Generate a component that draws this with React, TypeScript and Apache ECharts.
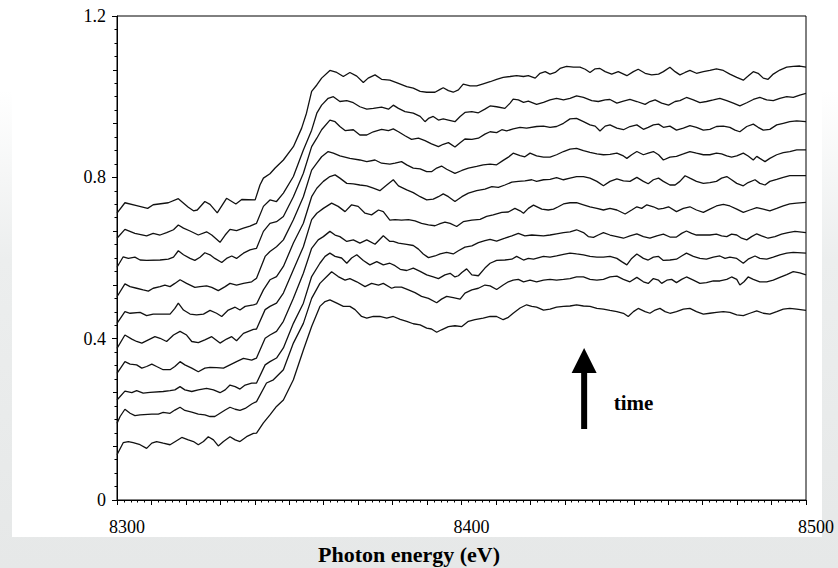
import React, { useEffect, useRef } from "react";
import * as echarts from "echarts";

// Photon energy (eV) vs normalised absorption, 10 successive XANES scans (bottom = first, top = last)
const scan1 = [[8300,0.112],[8301.8,0.142],[8303.3,0.145],[8304.7,0.142],[8306.7,0.137],[8308.6,0.128],[8310.1,0.141],[8311.5,0.145],[8313.4,0.141],[8315.4,0.137],[8317.3,0.147],[8318.8,0.155],[8320.7,0.149],[8322.2,0.145],[8323.6,0.137],[8325.1,0.145],[8326.5,0.157],[8328,0.149],[8329.4,0.134],[8330.9,0.145],[8332.8,0.157],[8334.3,0.149],[8335.7,0.145],[8337.6,0.157],[8339.6,0.165],[8340.5,0.166],[8342.5,0.191],[8344.4,0.211],[8346.3,0.232],[8348.3,0.248],[8351.2,0.298],[8354.1,0.372],[8356.5,0.430],[8358.9,0.480],[8360.4,0.492],[8361.8,0.496],[8363.8,0.488],[8365.7,0.480],[8367.6,0.480],[8369.1,0.472],[8371,0.455],[8372.5,0.451],[8374.4,0.455],[8376.3,0.455],[8378.3,0.451],[8380.2,0.455],[8382.2,0.448],[8384.1,0.443],[8386,0.437],[8388,0.434],[8389.9,0.426],[8391.3,0.424],[8392.8,0.416],[8394.2,0.422],[8396.2,0.430],[8398.1,0.432],[8400.1,0.430],[8402,0.443],[8403.9,0.447],[8406.3,0.451],[8408.3,0.455],[8410.2,0.455],[8412.1,0.447],[8413.6,0.453],[8415,0.463],[8417,0.476],[8418.9,0.484],[8420.4,0.480],[8421.8,0.478],[8423.8,0.471],[8425.7,0.473],[8427.6,0.478],[8429.6,0.480],[8431.5,0.481],[8433.4,0.484],[8435.4,0.481],[8437.3,0.480],[8439.3,0.475],[8441.2,0.473],[8443.1,0.470],[8445.1,0.467],[8447,0.463],[8448.4,0.455],[8449.9,0.467],[8451.3,0.475],[8453.3,0.467],[8454.7,0.463],[8456.2,0.471],[8457.6,0.475],[8459.1,0.467],[8460.5,0.463],[8462.4,0.467],[8464.4,0.473],[8466.3,0.475],[8468.2,0.467],[8470.2,0.461],[8472.1,0.463],[8474,0.465],[8476,0.467],[8477.9,0.465],[8479.9,0.459],[8481.8,0.457],[8483.7,0.463],[8485.7,0.469],[8487.6,0.463],[8489.5,0.461],[8491.5,0.467],[8493.4,0.473],[8495.3,0.475],[8497.3,0.473],[8500,0.470]];

const scan2 = [[8300,0.190],[8300.9,0.207],[8302.3,0.225],[8303.8,0.215],[8305.2,0.209],[8306.7,0.211],[8310.1,0.213],[8312,0.213],[8313.4,0.217],[8315.4,0.215],[8316.8,0.223],[8318.3,0.230],[8319.7,0.222],[8321.7,0.218],[8323.6,0.213],[8325.5,0.211],[8327,0.207],[8328.4,0.207],[8329.9,0.215],[8331.4,0.223],[8332.8,0.230],[8334.3,0.225],[8335.7,0.222],[8337.2,0.227],[8339.1,0.238],[8340.5,0.244],[8343.4,0.290],[8345.4,0.298],[8348.3,0.323],[8351.2,0.389],[8354.1,0.438],[8356.5,0.500],[8358.9,0.537],[8360.9,0.554],[8362.3,0.566],[8364.2,0.554],[8366.2,0.545],[8367.6,0.549],[8369.6,0.541],[8372,0.529],[8373.9,0.537],[8375.9,0.533],[8377.3,0.537],[8379.7,0.525],[8380.7,0.528],[8382.6,0.528],[8384.6,0.521],[8386.5,0.514],[8388.4,0.505],[8390.4,0.500],[8392.8,0.489],[8394.2,0.498],[8395.7,0.505],[8397.6,0.502],[8399.6,0.498],[8401,0.513],[8403,0.521],[8404.9,0.525],[8406.8,0.533],[8408.3,0.531],[8410.2,0.522],[8412.1,0.533],[8413.6,0.541],[8415,0.545],[8416.5,0.547],[8418,0.541],[8419.9,0.545],[8421.8,0.541],[8423.8,0.545],[8425.7,0.547],[8427.6,0.545],[8429.6,0.547],[8431.5,0.549],[8433.4,0.553],[8435.4,0.553],[8437.3,0.547],[8439.3,0.545],[8441.2,0.547],[8443.1,0.553],[8445.1,0.555],[8447,0.547],[8448.9,0.541],[8450.9,0.552],[8452.8,0.541],[8454.2,0.537],[8455.7,0.549],[8457.2,0.545],[8458.1,0.537],[8459.6,0.545],[8461,0.547],[8462.4,0.539],[8463.9,0.547],[8465.3,0.553],[8467.3,0.545],[8469.2,0.537],[8471.1,0.539],[8473.1,0.543],[8475,0.543],[8477,0.547],[8478.4,0.553],[8479.9,0.547],[8480.8,0.533],[8482,0.541],[8483.2,0.553],[8484.7,0.547],[8486.6,0.541],[8488.6,0.541],[8490.5,0.545],[8492.4,0.552],[8494.4,0.559],[8496.3,0.566],[8498.2,0.563],[8500,0.558]];

const scan3 = [[8300,0.248],[8302.3,0.270],[8304.3,0.266],[8305.7,0.271],[8307.6,0.265],[8309.6,0.267],[8313.4,0.269],[8315.4,0.271],[8316.8,0.273],[8318.3,0.281],[8319.7,0.273],[8321.7,0.269],[8323.6,0.273],[8326,0.277],[8328,0.273],[8329.9,0.266],[8331.4,0.273],[8332.8,0.285],[8334.3,0.281],[8335.7,0.275],[8337.2,0.285],[8339.1,0.290],[8340.5,0.290],[8343,0.335],[8344.4,0.343],[8346.3,0.352],[8348.3,0.377],[8351.2,0.438],[8354.1,0.488],[8356.5,0.554],[8358.9,0.587],[8360.4,0.604],[8361.8,0.612],[8363.3,0.604],[8365.2,0.600],[8366.7,0.587],[8368.1,0.600],[8369.6,0.608],[8371.5,0.594],[8373.4,0.583],[8375.4,0.591],[8377.3,0.583],[8379.2,0.587],[8380.7,0.581],[8382.2,0.572],[8384.1,0.569],[8386,0.575],[8388,0.567],[8389.9,0.558],[8391.8,0.553],[8393.3,0.549],[8395.2,0.558],[8396.7,0.562],[8398.1,0.553],[8399.1,0.556],[8400.1,0.564],[8401.5,0.573],[8403,0.558],[8404.9,0.556],[8406.8,0.575],[8408.3,0.587],[8410.2,0.594],[8412.6,0.595],[8414.6,0.597],[8416,0.604],[8418,0.595],[8419.4,0.599],[8420.9,0.597],[8423.8,0.604],[8425.7,0.602],[8427.6,0.605],[8429.6,0.609],[8431.5,0.612],[8433.4,0.610],[8435.4,0.608],[8437.3,0.604],[8439.3,0.602],[8441.2,0.602],[8443.1,0.604],[8445.1,0.599],[8446.5,0.591],[8448,0.583],[8449.4,0.599],[8450.9,0.610],[8452.8,0.599],[8454.2,0.595],[8455.7,0.602],[8457.2,0.604],[8458.6,0.594],[8460.5,0.595],[8462.4,0.597],[8463.9,0.605],[8465.3,0.612],[8467.3,0.604],[8469.2,0.599],[8471.1,0.597],[8473.1,0.602],[8475,0.605],[8476.5,0.599],[8477.9,0.602],[8479.9,0.599],[8481.8,0.587],[8483.2,0.597],[8485.2,0.605],[8486.6,0.599],[8488.6,0.597],[8490.5,0.602],[8492.4,0.608],[8494.4,0.612],[8496.3,0.614],[8500,0.612]];

const scan4 = [[8300,0.314],[8302.3,0.343],[8303.8,0.337],[8305.7,0.335],[8307.2,0.327],[8308.6,0.331],[8310.1,0.337],[8311.5,0.331],[8313.4,0.323],[8315.4,0.323],[8316.8,0.331],[8318.3,0.343],[8319.7,0.335],[8321.7,0.327],[8323.6,0.318],[8325.5,0.327],[8327,0.329],[8328.9,0.328],[8330.9,0.327],[8332.8,0.335],[8334.7,0.343],[8336.7,0.351],[8339.1,0.347],[8340.5,0.352],[8343,0.401],[8344.4,0.409],[8346.3,0.418],[8348.3,0.443],[8351.2,0.500],[8354.1,0.562],[8356.5,0.624],[8358.4,0.645],[8359.9,0.653],[8361.8,0.666],[8363.3,0.657],[8364.7,0.653],[8366.7,0.641],[8368.6,0.645],[8370.5,0.637],[8372.5,0.645],[8374.9,0.634],[8377.3,0.655],[8379.2,0.641],[8380.2,0.641],[8381.7,0.637],[8384.1,0.634],[8386,0.631],[8387.5,0.622],[8388.9,0.610],[8390.4,0.601],[8392.3,0.605],[8393.8,0.610],[8395.7,0.614],[8397.6,0.610],[8399.1,0.618],[8401,0.627],[8403,0.630],[8404.9,0.638],[8406.8,0.643],[8408.3,0.646],[8410.2,0.642],[8412.6,0.649],[8414.6,0.655],[8416.5,0.661],[8418.4,0.655],[8420.4,0.657],[8423.8,0.655],[8425.7,0.657],[8427.6,0.660],[8429.6,0.663],[8431.5,0.665],[8433.4,0.670],[8435.4,0.663],[8436.8,0.653],[8438.3,0.651],[8439.7,0.657],[8441.2,0.663],[8443.1,0.657],[8445.1,0.653],[8447,0.649],[8448.9,0.655],[8450.9,0.660],[8452.8,0.653],[8454.7,0.649],[8456.7,0.655],[8458.6,0.659],[8460.5,0.652],[8462.4,0.652],[8463.9,0.661],[8465.3,0.667],[8466.8,0.661],[8468.2,0.657],[8470.2,0.657],[8472.1,0.657],[8474,0.659],[8475.5,0.655],[8477,0.653],[8478.4,0.659],[8479.9,0.657],[8481.3,0.649],[8482.8,0.645],[8484.2,0.653],[8485.7,0.660],[8487.1,0.655],[8489,0.649],[8491,0.653],[8492.9,0.659],[8494.8,0.663],[8496.8,0.666],[8500,0.663]];

const scan5 = [[8300,0.376],[8302.3,0.409],[8304.3,0.399],[8305.7,0.393],[8307.2,0.389],[8309.1,0.397],[8311,0.405],[8312.5,0.401],[8314.4,0.393],[8316.4,0.409],[8318.3,0.418],[8320.2,0.409],[8321.7,0.393],[8323.6,0.390],[8325.5,0.397],[8327.5,0.405],[8329.9,0.389],[8331.8,0.399],[8333.3,0.405],[8334.7,0.395],[8336.7,0.413],[8339.6,0.423],[8340.5,0.424],[8343,0.472],[8344.4,0.480],[8346.3,0.488],[8348.3,0.513],[8351.2,0.571],[8354.1,0.628],[8356.5,0.695],[8358,0.711],[8359.9,0.723],[8362.3,0.736],[8364.2,0.728],[8366.2,0.715],[8368.1,0.732],[8370,0.728],[8372,0.711],[8373.9,0.707],[8375.9,0.719],[8377.3,0.715],[8379.2,0.694],[8380.7,0.695],[8382.6,0.694],[8384.6,0.695],[8386.5,0.692],[8388.4,0.686],[8390.4,0.682],[8392.3,0.680],[8393.8,0.685],[8395.2,0.689],[8396.7,0.686],[8398.6,0.678],[8400.5,0.690],[8403,0.694],[8405.4,0.696],[8407.3,0.703],[8409.2,0.707],[8411.7,0.713],[8413.6,0.714],[8415.5,0.723],[8417,0.717],[8418,0.711],[8419.4,0.723],[8420.9,0.731],[8423.3,0.721],[8425.2,0.719],[8426.7,0.721],[8428.1,0.727],[8429.6,0.734],[8431.5,0.737],[8433.4,0.737],[8435.4,0.732],[8437.3,0.727],[8439.3,0.723],[8441.2,0.719],[8443.1,0.723],[8445.1,0.719],[8447.5,0.709],[8449.4,0.719],[8450.9,0.727],[8452.3,0.723],[8453.8,0.732],[8455.7,0.727],[8457.2,0.721],[8458.6,0.723],[8460.1,0.727],[8462.4,0.715],[8464.4,0.723],[8466.3,0.727],[8468.2,0.719],[8470.2,0.713],[8472.1,0.721],[8474,0.729],[8476,0.733],[8477.9,0.729],[8479.9,0.721],[8481.8,0.713],[8483.7,0.719],[8485.7,0.725],[8487.6,0.721],[8489.5,0.717],[8491.5,0.723],[8493.4,0.729],[8495.3,0.734],[8497.3,0.736],[8500,0.738]];

const scan6 = [[8300,0.438],[8302.3,0.467],[8303.8,0.463],[8306.7,0.465],[8308.6,0.457],[8310.5,0.461],[8312.5,0.461],[8315.4,0.461],[8316.8,0.475],[8317.8,0.488],[8319.3,0.471],[8321.2,0.461],[8323.1,0.459],[8325.1,0.461],[8327,0.470],[8328.9,0.463],[8330.4,0.455],[8332.3,0.471],[8334.3,0.478],[8335.7,0.471],[8337.2,0.480],[8339.6,0.484],[8340.5,0.486],[8342.5,0.521],[8344.4,0.546],[8346.3,0.554],[8348.3,0.579],[8351.2,0.637],[8354.1,0.686],[8356.5,0.752],[8358,0.773],[8359.9,0.790],[8361.8,0.802],[8363.3,0.806],[8364.7,0.798],[8366.7,0.785],[8368.6,0.784],[8370.5,0.781],[8372.5,0.779],[8374.4,0.773],[8376.3,0.767],[8378.3,0.781],[8380.2,0.794],[8381.7,0.779],[8384.1,0.769],[8386,0.762],[8388,0.752],[8389.9,0.744],[8391.8,0.746],[8393.3,0.752],[8394.7,0.759],[8396.2,0.752],[8398.1,0.740],[8400.1,0.752],[8402,0.761],[8404.4,0.767],[8406.8,0.771],[8408.8,0.777],[8410.7,0.775],[8412.6,0.781],[8414.6,0.788],[8416.5,0.790],[8418.4,0.791],[8420.4,0.794],[8421.8,0.790],[8423.8,0.794],[8425.7,0.795],[8427.6,0.799],[8429.6,0.794],[8431.5,0.798],[8433.4,0.802],[8435.4,0.802],[8437.3,0.798],[8439.3,0.790],[8441.2,0.779],[8443.1,0.790],[8445.1,0.796],[8447,0.791],[8448.9,0.790],[8450.9,0.800],[8452.8,0.790],[8454.2,0.784],[8455.7,0.794],[8457.2,0.798],[8458.6,0.790],[8460.5,0.781],[8462,0.781],[8463.4,0.790],[8464.9,0.804],[8466.3,0.798],[8468.2,0.790],[8470.2,0.785],[8472.1,0.787],[8474,0.790],[8475.5,0.798],[8477,0.802],[8478.4,0.794],[8479.9,0.785],[8481.8,0.779],[8483.2,0.787],[8485.2,0.794],[8486.6,0.785],[8488.1,0.781],[8489.5,0.790],[8491.5,0.795],[8493.4,0.800],[8495.3,0.804],[8497.3,0.804],[8500,0.804]];

const scan7 = [[8300,0.504],[8302.3,0.536],[8303.8,0.529],[8305.7,0.525],[8307.6,0.521],[8309.1,0.518],[8310.5,0.525],[8312.5,0.529],[8313.9,0.533],[8315.4,0.529],[8316.8,0.537],[8318.3,0.546],[8320.2,0.537],[8322.6,0.527],[8324.1,0.529],[8326,0.531],[8327.5,0.527],[8329.4,0.519],[8331.4,0.529],[8332.8,0.537],[8334.7,0.533],[8336.7,0.537],[8339.1,0.541],[8340.5,0.550],[8343,0.604],[8344.4,0.616],[8346.3,0.628],[8348.3,0.645],[8351.2,0.695],[8354.1,0.752],[8356.5,0.818],[8358,0.835],[8359.4,0.851],[8361.3,0.864],[8362.8,0.860],[8364.7,0.853],[8367.6,0.847],[8370.5,0.843],[8372.5,0.839],[8374.9,0.843],[8376.8,0.835],[8379.2,0.833],[8380.7,0.835],[8382.6,0.839],[8384.1,0.831],[8386,0.823],[8388,0.821],[8389.9,0.814],[8391.3,0.814],[8392.8,0.823],[8394.2,0.828],[8395.7,0.820],[8398.1,0.810],[8400.1,0.817],[8402,0.823],[8404.4,0.827],[8406.3,0.831],[8408.3,0.833],[8410.2,0.831],[8412.1,0.842],[8413.6,0.850],[8415,0.860],[8417,0.854],[8418.4,0.851],[8419.9,0.860],[8421.8,0.853],[8423.8,0.850],[8425.7,0.850],[8427.6,0.856],[8429.6,0.864],[8431.5,0.870],[8433.4,0.872],[8435.4,0.866],[8437.3,0.862],[8439.3,0.858],[8441.2,0.856],[8443.1,0.857],[8445.1,0.860],[8447,0.853],[8448,0.847],[8449.4,0.856],[8450.9,0.864],[8452.8,0.856],[8454.2,0.860],[8455.7,0.864],[8457.2,0.856],[8458.6,0.843],[8460.5,0.850],[8462.4,0.852],[8464.4,0.858],[8466.3,0.864],[8468.2,0.860],[8470.2,0.856],[8472.1,0.856],[8474,0.860],[8475.5,0.858],[8477,0.853],[8478.4,0.850],[8479.9,0.853],[8481.8,0.860],[8483.2,0.853],[8484.7,0.843],[8485.7,0.852],[8486.6,0.847],[8488.1,0.839],[8489.5,0.847],[8491.5,0.856],[8493.4,0.861],[8495.3,0.864],[8497.3,0.868],[8500,0.868]];

const scan8 = [[8300,0.577],[8301.8,0.603],[8303.3,0.599],[8305.2,0.602],[8306.7,0.595],[8308.6,0.594],[8312.5,0.595],[8314.9,0.597],[8316.4,0.602],[8317.8,0.618],[8319.3,0.608],[8321.2,0.599],[8322.6,0.594],[8324.1,0.602],[8325.5,0.613],[8327,0.608],[8328.4,0.599],[8330.4,0.589],[8331.8,0.599],[8333.3,0.605],[8334.7,0.599],[8336.7,0.612],[8338.6,0.620],[8340.5,0.624],[8342.5,0.666],[8344.4,0.686],[8346.3,0.690],[8348.3,0.703],[8351.2,0.752],[8354.1,0.810],[8356.5,0.876],[8358,0.897],[8359.4,0.918],[8361.8,0.942],[8363.3,0.938],[8364.7,0.926],[8366.2,0.916],[8368.6,0.918],[8370.5,0.905],[8372.5,0.905],[8374.4,0.913],[8376.8,0.919],[8378.8,0.916],[8380.2,0.920],[8381.7,0.913],[8383.6,0.903],[8385.5,0.894],[8387.5,0.897],[8389.4,0.891],[8391.3,0.883],[8393.3,0.876],[8394.7,0.882],[8396.2,0.886],[8398.1,0.875],[8399.6,0.886],[8401,0.895],[8403,0.894],[8404.9,0.897],[8406.8,0.907],[8408.3,0.913],[8410.2,0.911],[8411.7,0.918],[8413.1,0.915],[8415,0.920],[8417,0.924],[8418.9,0.922],[8421.8,0.926],[8423.8,0.927],[8425.7,0.924],[8427.6,0.926],[8429.6,0.934],[8431.5,0.945],[8433.4,0.946],[8435.4,0.938],[8437.3,0.930],[8438.8,0.927],[8440.2,0.915],[8441.7,0.927],[8443.1,0.930],[8445.1,0.922],[8447,0.918],[8448.9,0.926],[8450.9,0.930],[8452.8,0.919],[8454.2,0.924],[8455.7,0.930],[8457.2,0.932],[8458.6,0.924],[8460.5,0.927],[8462.4,0.917],[8464.4,0.922],[8466.3,0.928],[8468.2,0.924],[8470.2,0.917],[8472.1,0.919],[8474,0.926],[8476,0.927],[8477.9,0.924],[8479.4,0.917],[8480.8,0.913],[8482.8,0.926],[8484.7,0.932],[8486.1,0.924],[8487.6,0.917],[8489.5,0.919],[8491.5,0.930],[8493.4,0.934],[8495.3,0.938],[8497.3,0.940],[8500,0.938]];

const scan9 = [[8300,0.649],[8302.3,0.671],[8305.2,0.661],[8308.6,0.655],[8310.5,0.661],[8312.5,0.657],[8314.4,0.663],[8316.4,0.670],[8317.8,0.682],[8319.3,0.674],[8321.2,0.667],[8323.6,0.657],[8326,0.665],[8327.5,0.657],[8329.9,0.639],[8331.4,0.657],[8332.8,0.671],[8334.7,0.668],[8336.7,0.674],[8338.6,0.679],[8340.5,0.686],[8342.5,0.728],[8344.4,0.744],[8346.3,0.740],[8348.3,0.761],[8351.2,0.802],[8354.1,0.868],[8356.5,0.917],[8358,0.959],[8359.4,0.979],[8361.3,0.996],[8362.8,1.000],[8364.7,0.988],[8366.7,0.990],[8368.6,0.985],[8370.5,0.975],[8372.5,0.969],[8374.4,0.971],[8376.8,0.974],[8378.8,0.969],[8380.2,0.979],[8381.7,0.971],[8383.6,0.963],[8386,0.959],[8388,0.951],[8389.4,0.938],[8390.4,0.946],[8391.8,0.951],[8393.3,0.942],[8394.7,0.945],[8396.2,0.942],[8398.1,0.938],[8399.6,0.951],[8401,0.961],[8403,0.963],[8404.9,0.960],[8406.8,0.969],[8408.3,0.977],[8410.2,0.975],[8412.6,0.971],[8414.1,0.984],[8415,0.994],[8416.5,0.992],[8418,0.986],[8419.4,0.989],[8421.8,0.981],[8423.8,0.986],[8425.7,0.992],[8427.6,0.996],[8429.6,0.992],[8431.5,0.996],[8433.4,1.002],[8435.4,0.998],[8437.8,0.990],[8439.7,0.988],[8441.7,0.992],[8443.1,0.993],[8445.1,0.984],[8447,0.989],[8448.9,0.993],[8450.9,0.988],[8453.3,0.981],[8454.7,0.988],[8456.2,0.992],[8458.1,0.984],[8460.1,0.979],[8462,0.988],[8463.4,0.990],[8465.3,0.998],[8467.3,0.992],[8469.2,0.985],[8471.1,0.988],[8473.1,0.992],[8475,0.996],[8477,0.990],[8478.9,0.984],[8480.8,0.977],[8482.8,0.985],[8484.7,0.993],[8486.6,0.998],[8488.6,0.992],[8490.5,0.990],[8492.4,0.996],[8494.4,1.000],[8496.3,0.998],[8498.2,1.004],[8500,1.008]];

const scan10 = [[8300,0.711],[8302.3,0.737],[8305.7,0.730],[8308.9,0.723],[8310.5,0.732],[8314.9,0.737],[8317.8,0.747],[8320.7,0.726],[8322.2,0.717],[8323.3,0.719],[8325.5,0.740],[8327,0.733],[8329.1,0.712],[8331.8,0.748],[8334.5,0.734],[8336.2,0.745],[8340.1,0.744],[8341.5,0.781],[8342.5,0.798],[8344.4,0.809],[8345.9,0.823],[8348.3,0.843],[8351.2,0.876],[8353.6,0.922],[8355,0.959],[8356.5,1.013],[8358,1.029],[8359.4,1.046],[8361.8,1.065],[8363.8,1.060],[8365.7,1.050],[8367.6,1.060],[8369.6,1.051],[8371.5,1.035],[8372.9,1.046],[8374.9,1.054],[8376.8,1.043],[8379.2,1.041],[8381.7,1.033],[8384.1,1.025],[8386,1.021],[8388,1.013],[8389.9,1.011],[8392.3,1.011],[8393.8,1.018],[8394.7,1.022],[8396.2,1.015],[8397.6,1.011],[8399.1,1.017],[8400.5,1.031],[8402.5,1.027],[8404.4,1.027],[8406.3,1.032],[8408.3,1.037],[8410.2,1.043],[8412.1,1.048],[8414.1,1.050],[8416,1.052],[8418,1.050],[8419.4,1.052],[8421.4,1.046],[8422.8,1.058],[8424.3,1.062],[8425.7,1.056],[8427.2,1.060],[8428.6,1.070],[8430.5,1.075],[8432.5,1.073],[8434.4,1.073],[8435.9,1.068],[8437.3,1.060],[8438.8,1.069],[8440.2,1.070],[8441.7,1.062],[8443.6,1.056],[8445.5,1.062],[8448,1.052],[8449.9,1.062],[8451.3,1.068],[8453.3,1.058],[8455.2,1.054],[8457.2,1.056],[8458.6,1.062],[8460.5,1.073],[8462,1.062],[8463.4,1.054],[8464.9,1.060],[8466.3,1.065],[8468.2,1.058],[8470.2,1.062],[8472.1,1.065],[8474,1.069],[8476,1.065],[8477.9,1.056],[8479.9,1.048],[8481.8,1.041],[8483.2,1.051],[8484.7,1.062],[8486.1,1.058],[8487.6,1.046],[8489,1.043],[8490.5,1.056],[8492.4,1.066],[8494.4,1.073],[8496.3,1.075],[8498.2,1.076],[8500,1.073]];

const scans = [scan1, scan2, scan3, scan4, scan5, scan6, scan7, scan8, scan9, scan10];

const xTickLabels = [8300, 8400, 8500];
const yTickLabels = [0, 0.4, 0.8, 1.2];
const xAxisTitle = "Photon energy (eV)";
const arrowLabel = "time";

// annotation anchor points in data units
const arrowX = 8435.6;
const arrowBottom = 0.176;
const arrowHeadBase = 0.315;
const arrowTip = 0.377;
const labelX = 8444.2;
const labelY = 0.241;

const FONT = '"Liberation Serif", "Times New Roman", serif';

export default function App() {
  const ref = useRef<HTMLDivElement>(null);

  useEffect(() => {
    if (!ref.current) return;
    const chart = echarts.init(ref.current, null, { renderer: "svg" });
    chart.setOption({
      animation: false,
      backgroundColor: "transparent",
      grid: {
        left: 117,
        right: 32,
        top: 16,
        bottom: 68,
        show: true,
        borderColor: "#000",
        borderWidth: 1,
        backgroundColor: "transparent",
      },
      xAxis: {
        type: "value",
        min: 8300,
        max: 8500,
        interval: 10,
        axisLine: { show: true, onZero: false, lineStyle: { color: "#000", width: 1 } },
        axisTick: { show: true, length: 5, lineStyle: { color: "#000", width: 1 } },
        minorTick: { show: true, splitNumber: 5, length: 2.5, lineStyle: { color: "#000", width: 1 } },
        splitLine: { show: false },
        minorSplitLine: { show: false },
        axisLabel: {
          interval: 0,
          margin: 18,
          color: "#000",
          fontFamily: FONT,
          fontSize: 18,
          padding: [0, 0, 0, 20],
          formatter: (v: number) => (xTickLabels.indexOf(Math.round(v)) >= 0 ? String(Math.round(v)) : ""),
        },
      },
      yAxis: [
        {
          type: "value",
          min: 0,
          max: 1.2,
          interval: 0.4,
          position: "left",
          axisLine: { show: true, onZero: false, lineStyle: { color: "#000", width: 1 } },
          axisTick: { show: true, length: 5, lineStyle: { color: "#000", width: 1 } },
          minorTick: { show: true, splitNumber: 12, length: 2.5, lineStyle: { color: "#000", width: 1 } },
          splitLine: { show: false },
          minorSplitLine: { show: false },
          axisLabel: {
            margin: 11,
            color: "#000",
            fontFamily: FONT,
            fontSize: 18,
            padding: [6, 0, 0, 0],
            formatter: (v: number) => {
              const t = yTickLabels.find((l) => Math.abs(l - v) < 1e-6);
              if (t === undefined) return "";
              return t === 0 ? "0" : t.toFixed(1);
            },
          },
        },
        {
          type: "value",
          min: 0,
          max: 1.2,
          interval: 0.4 / 3,
          position: "left",
          offset: 0,
          axisLine: { show: false },
          axisTick: { show: true, length: 4, lineStyle: { color: "#000", width: 1 } },
          axisLabel: { show: false },
          splitLine: { show: false },
        },
      ],
      series: scans.map((d, i) => ({
        name: "scan " + (i + 1),
        type: "line",
        data: d,
        yAxisIndex: 0,
        showSymbol: false,
        symbol: "none",
        smooth: false,
        silent: true,
        lineStyle: { color: "#111111", width: 1.3 },
      })),
    });

    const f = { xAxisIndex: 0, yAxisIndex: 0 };
    const tip = chart.convertToPixel(f, [arrowX, arrowTip]) as number[];
    const base = chart.convertToPixel(f, [arrowX, arrowHeadBase]) as number[];
    const bottom = chart.convertToPixel(f, [arrowX, arrowBottom]) as number[];
    const lab = chart.convertToPixel(f, [labelX, labelY]) as number[];

    chart.setOption({
      graphic: [
        {
          type: "rect",
          shape: { x: tip[0] - 3, y: base[1] - 1, width: 6, height: bottom[1] - base[1] + 1 },
          style: { fill: "#000" },
          silent: true,
          z: 10,
        },
        {
          type: "polygon",
          shape: {
            points: [
              [tip[0], tip[1]],
              [tip[0] - 12.5, base[1]],
              [tip[0] + 12.5, base[1]],
            ],
          },
          style: { fill: "#000" },
          silent: true,
          z: 10,
        },
        {
          type: "text",
          x: lab[0],
          y: lab[1],
          style: {
            text: arrowLabel,
            fill: "#000",
            fontFamily: FONT,
            fontSize: 21,
            fontWeight: "bold",
            align: "left",
            verticalAlign: "middle",
            textAlign: "left",
            textVerticalAlign: "middle",
          },
          silent: true,
          z: 10,
        },
        {
          type: "text",
          x: 409,
          y: 554,
          style: {
            text: xAxisTitle,
            fill: "#000",
            fontFamily: FONT,
            fontSize: 22,
            fontWeight: "bold",
            align: "center",
            verticalAlign: "middle",
            textAlign: "center",
            textVerticalAlign: "middle",
          },
          silent: true,
          z: 10,
        },
      ],
    });

    return () => chart.dispose();
  }, []);

  return (
    <div
      style={{
        position: "fixed",
        left: 0,
        top: 0,
        width: 838,
        height: 568,
        overflow: "hidden",
        background: "linear-gradient(180deg, #ffffff 0px, #ffffff 90px, #eceeee 260px, #e6e8e8 568px)",
      }}
    >
      <div style={{ position: "absolute", left: 12, top: 0, width: 810, height: 537, background: "#ffffff" }} />
      <div ref={ref} style={{ position: "absolute", left: 0, top: 0, width: 838, height: 568 }} />
    </div>
  );
}
